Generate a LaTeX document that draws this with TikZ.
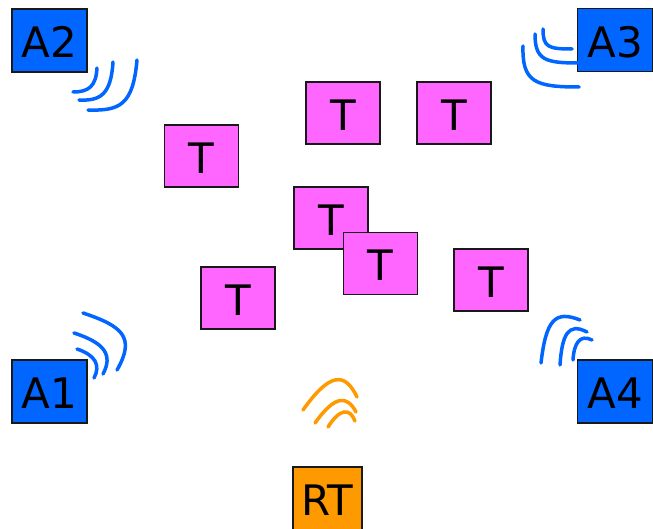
\documentclass[tikz,border=0pt]{standalone}
\usepackage{fontspec}
\setmainfont{DejaVu Sans}
\definecolor{anchorblue}{RGB}{0,102,255}
\definecolor{tagpink}{RGB}{255,102,255}
\definecolor{rtorange}{RGB}{255,153,0}
\definecolor{edgegray}{RGB}{25,25,25}
\tikzset{
  boxbase/.style={draw=edgegray, line width=1.8pt, inner sep=0pt, text height=34.6pt, text depth=0pt, font=\fontsize{42}{50}\selectfont},
  anchorbox/.style={boxbase, fill=anchorblue, minimum width=75pt, minimum height=63pt},
  tagbox/.style={boxbase, fill=tagpink, minimum width=74pt, minimum height=62pt},
  rtbox/.style={boxbase, fill=rtorange, minimum width=69pt, minimum height=63pt},
  bluewave/.style={draw=anchorblue, line width=3.5pt, line cap=round},
  orangewave/.style={draw=rtorange, line width=3.5pt, line cap=round}
}
\begin{document}
\begin{tikzpicture}[x=1pt,y=-1pt]
\useasboundingbox (0,0) rectangle (653,529);
\clip (0,0) rectangle (653,529);
% anchors
\node[anchorbox] (A2) at (49.5,40.5) {A2};
\node[anchorbox] (A3) at (615,40) {A3};
\node[anchorbox] (A1) at (49.5,391.5) {A1};
\node[anchorbox] (A4) at (615,391.5) {A4};
\node[rtbox] (RT) at (327.5,498.5) {RT};
% tags
\node[tagbox] (T1) at (201.5,156) {T};
\node[tagbox] (T2) at (343,113) {T};
\node[tagbox] (T3) at (454,113) {T};
\node[tagbox] (T4) at (331,218) {T};
\node[tagbox] (T5) at (380.5,263.5) {T};
\node[tagbox] (T6) at (238,298) {T};
\node[tagbox] (T7) at (491,280) {T};
% waves A2
\draw[bluewave] (97,68) .. controls (96,86) and (89,92) .. (73,92);
\draw[bluewave] (113,62) .. controls (111,95) and (100,101) .. (79,100);
\draw[bluewave] (137,60) .. controls (133,105) and (120,111) .. (88,110);
% waves A3
\draw[bluewave] (543,29) .. controls (543,47) and (548,49) .. (572,49);
\draw[bluewave] (535,34) .. controls (535,60) and (545,63) .. (579,63);
\draw[bluewave] (523,46) .. controls (522,82) and (535,87) .. (579,87);
% waves A1
\draw[bluewave] (77,349) .. controls (95,355) and (101,365) .. (94,378);
\draw[bluewave] (74,333) .. controls (105,343) and (113,355) .. (103,374);
\draw[bluewave] (83,313) .. controls (122,326) and (136,337) .. (117,370);
% waves A4
\draw[bluewave] (541,363) .. controls (546,320) and (555,310) .. (580,320);
\draw[bluewave] (560,365) .. controls (562,335) and (568,322) .. (587,332);
\draw[bluewave] (573,360) .. controls (574,343) and (580,334) .. (592,340);
% waves RT
\draw[orangewave] (303,410) .. controls (330,372) and (345,372) .. (357,397);
\draw[orangewave] (315,423) .. controls (335,395) and (347,395) .. (356,412);
\draw[orangewave] (328,427) .. controls (340,408) and (350,408) .. (355,421);
\end{tikzpicture}
\end{document}
